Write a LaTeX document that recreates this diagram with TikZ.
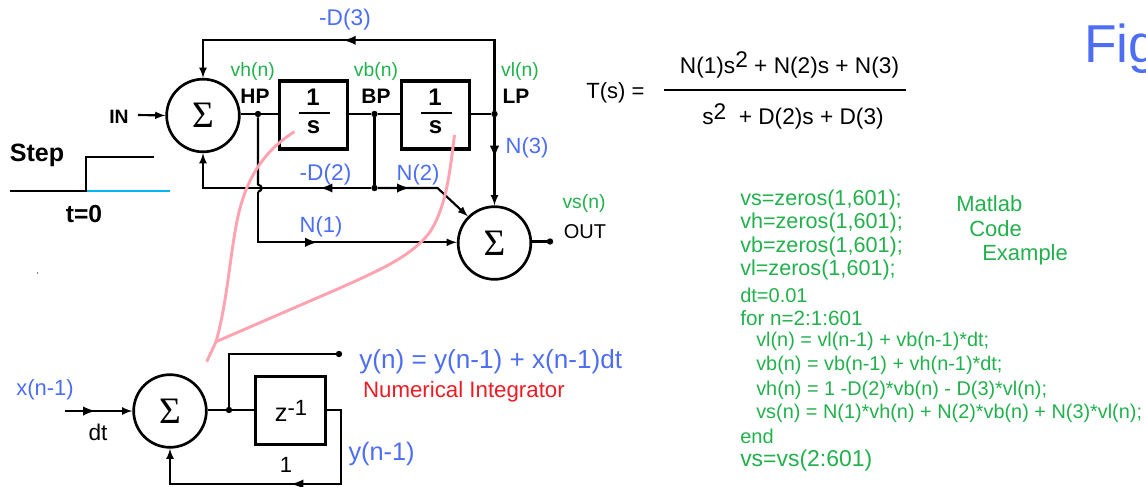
\documentclass[tikz,border=0pt]{standalone}
\usepackage{fontspec}
\setsansfont{Liberation Sans}
\newfontfamily\sumfont{Liberation Serif}
\usetikzlibrary{decorations.markings}
\definecolor{figblue}{HTML}{4D6DF3}
\definecolor{figgreen}{HTML}{22B14C}
\definecolor{figred}{HTML}{ED1C24}
\definecolor{figcyan}{HTML}{00B7EF}
\definecolor{figpink}{HTML}{FFA3B1}
\tikzset{
  txt/.style={inner sep=0pt,font=\sffamily\fontsize{#1}{#1}\selectfont},
  boldtxt/.style={inner sep=0pt,font=\sffamily\bfseries\fontsize{#1}{#1}\selectfont},
  code/.style={txt=#1,text=figgreen,anchor=west},
  wire/.style={line width=1.6pt,>={latex}},
  sumnode/.style={circle,draw,line width=2pt,minimum size=54.5pt,inner sep=0pt,font=\sumfont\fontsize{28}{28}\selectfont},
  intbox/.style={draw,line width=2.4pt,minimum width=51.5pt,minimum height=51pt,inner sep=0pt},
  dotnode/.style={circle,fill,inner sep=0pt,minimum size=4.8pt},
  midarrow/.style={postaction={decorate,decoration={markings,mark=at position #1 with {\arrow[scale=1.2]{latex}}}}}
}
\begin{document}
\begin{tikzpicture}[y=-.75pt, x=.75pt, font=\sffamily]
  \useasboundingbox (0,0) rectangle (1146,486);
  % filter
  \node[sumnode] (sum1) at (203,115.5) {Σ};
  \node[sumnode] (sum2) at (494.5,243) {Σ};
  \node[intbox] (int1) at (313.5,115) {};
  \node[intbox] (int2) at (435.5,115) {};
  \node[boldtxt=18] (one1) at (313,97) {1};
  \node[boldtxt=18] (one2) at (435,97) {1};
  \node[boldtxt=18] (ess1) at (313.5,127) {s};
  \node[boldtxt=18] (ess2) at (435.5,127) {s};
  \draw[wire] (299,112.7) coordinate (bar1a) -- (330,112.7) coordinate (bar1b);
  \draw[wire] (421,112.7) coordinate (bar2a) -- (452,112.7) coordinate (bar2b);
  \node[dotnode] (hp) at (258,114) {};
  \node[dotnode] (bp) at (374.5,114) {};
  \node[dotnode] (lp) at (494.5,114) {};
  \node[dotnode] (bpd) at (374.5,188) {};
  \node[dotnode] (outd) at (550,241.5) {};
  \coordinate (top) at (494.5,40.3);
  \coordinate (topl) at (203,40.3);
  \coordinate (inl) at (138,115);
  \coordinate (hopa) at (258,184.5);
  \coordinate (hopb) at (258,192);
  \coordinate (kink) at (437.5,188);

  \draw[wire] (sum1.east |- hp) -- (hp) -- (int1.west |- hp);
  \draw[wire] (int1.east |- bp) -- (bp) -- (int2.west |- bp);
  \draw[wire] (int2.east |- lp) -- (lp);
  \draw[wire,midarrow=.554,-latex] (lp) -- (top) -- (topl) -- (sum1.north);
  \draw[wire,-latex] (inl) -- (sum1.west);
  \draw[wire] (bp) -- (bpd);
  \draw[wire,midarrow=.25,-latex] (bpd) -| (sum1.south);
  \draw[wire,midarrow=.31,-latex] (bpd) -- (kink) -- (sum2.135);
  \draw[wire,midarrow=.46,-latex] (lp) -- (sum2.north);
  \draw[wire] (hp) -- (hopa) .. controls (263,186) and (263,190) .. (hopb);
  \draw[wire,midarrow=.44,-latex] (hopb) |- (sum2.west |- 0,242.3);
  \draw[wire] (sum2.east |- outd) -- (outd);

  % step input
  \coordinate (st0) at (10,190.7);
  \coordinate (st1) at (86,190.7);
  \coordinate (st2) at (86,156.7);
  \coordinate (st3) at (153.5,156.7);
  \coordinate (st4) at (170,190.7);
  \draw[figcyan,wire] (st1) -- (st4);
  \draw[wire] (st0) -- (st1) -- (st2) -- (st3);
  \node[boldtxt=18.8] (steplbl) at (37,155) {Step};
  \node[boldtxt=18.5] (t0lbl) at (84,214) {t=0};
  \node[boldtxt=14.5] (inlbl) at (119,116.7) {IN};
  \node[boldtxt=15.7] (hplbl) at (255,96) {HP};
  \node[boldtxt=15.7] (bplbl) at (376,96) {BP};
  \node[boldtxt=15.7] (lplbl) at (516,96) {LP};
  \node[txt=14.5,text=figgreen] (vhlbl) at (252.7,71) {vh(n)};
  \node[txt=14.5,text=figgreen] (vblbl) at (376,71) {vb(n)};
  \node[txt=14.5,text=figgreen] (vllbl) at (520,71) {vl(n)};
  \node[txt=14.5,text=figgreen] (vslbl) at (584,203) {vs(n)};
  \node[txt=15] (outlbl) at (585,232) {OUT};
  \node[txt=17,text=figblue] (d3lbl) at (345,20) {-D(3)};
  \node[txt=17,text=figblue] (d2lbl) at (325.5,175) {-D(2)};
  \node[txt=16.5,text=figblue] (n1lbl) at (321,227) {N(1)};
  \node[txt=16.5,text=figblue] (n2lbl) at (418,175) {N(2)};
  \node[txt=16.5,text=figblue] (n3lbl) at (527,148) {N(3)};

  % integrator
  \node[sumnode] (sum3) at (170,411) {Σ};
  \node[intbox,minimum width=52pt] (del) at (290.5,410.8) {};
  \node[txt=19] (zlbl) at (291,411) {z\raisebox{5pt}{\fontsize{16.5}{16.5}\selectfont -1}};
  \node[dotnode] (fork) at (229,410) {};
  \node[dotnode] (yout) at (339,354) {};
  \coordinate (xin) at (65,411);
  \coordinate (loopr) at (341.4,410);
  \coordinate (loopb) at (341.4,484);
  \draw[wire] (sum3.east |- fork) -- (fork) -- (del.west |- fork);
  \draw[wire] (fork) |- (yout);
  \draw[wire,midarrow=.45,-latex] (xin) -- (sum3.west);
  \draw[wire,midarrow=.47,-latex] (del.east |- loopr) -- (loopr) -- (loopb) -| (sum3.south);
  \node[txt=16.5,text=figblue] (xlbl) at (45,390) {x(n-1)};
  \node[txt=17] (dtlbl) at (98,432.7) {dt};
  \node[txt=16.5] (onelbl) at (286,465) {1};
  \node[txt=19,text=figblue] (ylbl) at (381.6,454) {y(n-1)};
  \node[txt=19.6,text=figblue,anchor=west] (eqlbl) at (359,361.7) {y(n) = y(n-1) + x(n-1)dt};
  \node[txt=16.7,text=figred,anchor=west] (numlbl) at (362.8,391.7) {Numerical Integrator};

  % pink strokes
  \draw[figpink,line width=2.2pt] (294.5,131.7) .. controls (262,152) and (247,180) .. (239,212) .. controls (230,250) and (228,300) .. (216,341.7) -- (206.7,361.7);
  \draw[figpink,line width=2.2pt] (454.5,135) .. controls (450,170) and (447,205) .. (430,232) .. controls (412,256) and (380,270) .. (340,288) -- (216,341.7);

  % transfer function
  \node[txt=16.5] (tlbl) at (615.5,93) {T(s) =};
  \node[txt=17] (numer) at (789.5,65) {N(1)s\raisebox{4pt}{2} + N(2)s + N(3)};
  \node[txt=17] (denom) at (793,116.7) {s\raisebox{4pt}{2}~ + D(2)s + D(3)};
  \coordinate (fracl) at (664,90);
  \coordinate (fracr) at (905.7,90);
  \draw[wire] (fracl) -- (fracr);
  \node[txt=40,text=figblue,anchor=west] (figlbl) at (1084,49) {Fig};

  % matlab
  \node[code=16.2] (c1) at (740,200) {vs=zeros(1,601);};
  \node[code=16.2] (c2) at (740,223.3) {vh=zeros(1,601);};
  \node[code=16.2] (c3) at (740,246.7) {vb=zeros(1,601);};
  \node[code=16.2] (c4) at (740,270) {vl=zeros(1,601);};
  \node[code=15] (c5) at (740,295) {dt=0.01};
  \node[code=15.5] (c6) at (740,318) {for n=2:1:601};
  \node[code=14.9] (c7) at (756,341.7) {vl(n) = vl(n-1) + vb(n-1)*dt;};
  \node[code=14.9] (c8) at (756,365) {vb(n) = vb(n-1) + vh(n-1)*dt;};
  \node[code=14.9] (c9) at (756,390) {vh(n) = 1 -D(2)*vb(n) - D(3)*vl(n);};
  \node[code=14.9] (c10) at (756,413) {vs(n) = N(1)*vh(n) + N(2)*vb(n) + N(3)*vl(n);};
  \node[code=15] (c11) at (740,436.7) {end};
  \node[code=17.2] (c12) at (740,461) {vs=vs(2:601)};
  \node[code=16.5] (m1) at (956,204) {Matlab};
  \node[code=16.5] (m2) at (969,229) {Code};
  \node[code=16.5] (m3) at (982,255) {Example};
  \fill (37.5,273) circle (.6);
\end{tikzpicture}
\end{document}
